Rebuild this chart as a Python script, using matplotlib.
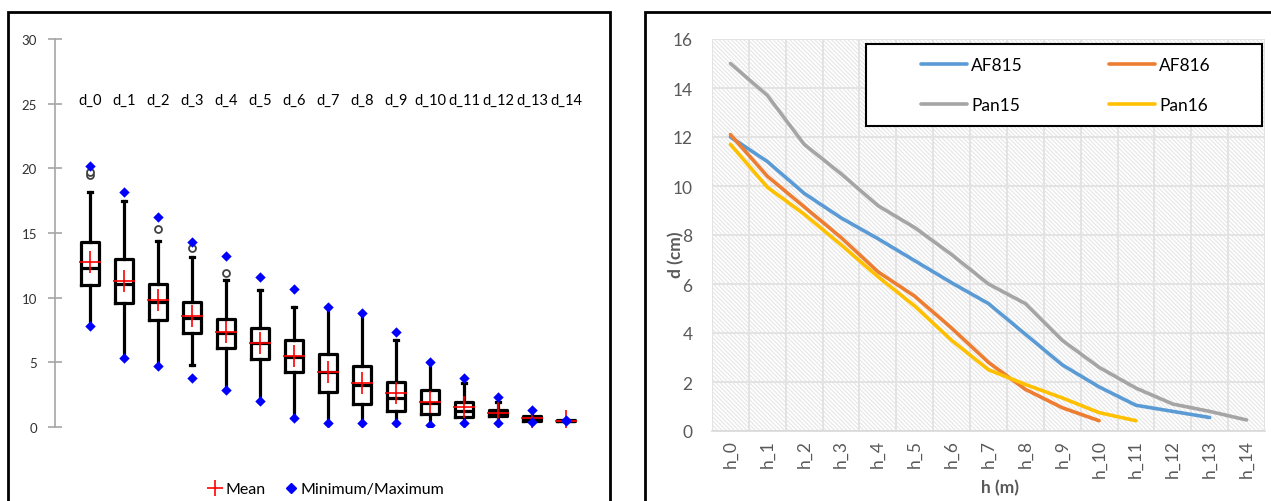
import matplotlib
matplotlib.use("Agg")
import matplotlib.pyplot as plt
from matplotlib.lines import Line2D
from matplotlib.patches import Rectangle
import numpy as np

plt.rcParams['font.family'] = ['Lato', 'DejaVu Sans']
plt.rcParams['hatch.linewidth'] = 0.8

# ---------------- Left chart data (box plots) ----------------
d_labels = ['d_0', 'd_1', 'd_2', 'd_3', 'd_4', 'd_5', 'd_6', 'd_7',
            'd_8', 'd_9', 'd_10', 'd_11', 'd_12', 'd_13', 'd_14']
d_q1 = [11.0, 9.6, 8.27, 7.24, 6.08, 5.23, 4.25, 2.74, 1.8, 1.24, 0.98, 0.75, 0.85, 0.49, 0.44]
d_med = [12.26, 11.03, 9.66, 8.42, 7.29, 6.49, 5.41, 4.28, 3.27, 2.27, 1.85, 1.21, 1.1, 0.7, 0.5]
d_q3 = [14.27, 12.98, 11.03, 9.63, 8.32, 7.68, 6.72, 5.68, 4.71, 3.48, 2.86, 1.9, 1.31, 0.88, 0.55]
d_mean = [12.72, 11.3, 9.84, 8.6, 7.37, 6.49, 5.46, 4.28, 3.4, 2.63, 1.9, 1.52, 1.1, 0.7, 0.5]
d_whislo = [7.78, 5.33, 4.71, 4.76, 2.89, 2.0, 0.7, 0.28, 0.28, 0.28, 0.15, 0.28, 0.28, 0.36, 0.45]
d_whishi = [18.2, 17.44, 14.35, 13.14, 11.36, 10.59, 9.25, 9.3, 8.81, 6.75, 5.02, 3.37, 1.9, 1.34, 0.55]
d_min = [7.78, 5.33, 4.71, 3.78, 2.89, 2.0, 0.7, 0.28, 0.28, 0.28, 0.15, 0.28, 0.28, 0.36, 0.45]
d_max = [20.2, 18.2, 16.25, 14.27, 13.19, 11.62, 10.64, 9.3, 8.81, 7.32, 5.02, 3.81, 2.32, 1.34, 0.55]
d_outliers = [[19.5, 19.7], [], [15.3], [13.83], [11.87], [], [], [], [], [], [], [], [], [], []]

# ---------------- Right chart data (lines) ----------------
h_labels = ['h_0', 'h_1', 'h_2', 'h_3', 'h_4', 'h_5', 'h_6', 'h_7',
            'h_8', 'h_9', 'h_10', 'h_11', 'h_12', 'h_13', 'h_14']
AF815 = [12.0, 11.0, 9.7, 8.7, 7.85, 6.95, 6.05, 5.2, 3.95, 2.7, 1.8, 1.05, 0.8, 0.55]
AF816 = [12.1, 10.4, 9.15, 7.9, 6.5, 5.5, 4.2, 2.8, 1.7, 0.95, 0.42]
Pan15 = [15.0, 13.7, 11.7, 10.5, 9.2, 8.3, 7.2, 6.0, 5.2, 3.7, 2.6, 1.75, 1.1, 0.8, 0.45]
Pan16 = [11.7, 9.95, 8.85, 7.6, 6.3, 5.1, 3.7, 2.5, 1.9, 1.35, 0.75, 0.42]

W, H = 1271, 502
fig = plt.figure(figsize=(W / 100, H / 100), dpi=100)


def fx(px):
    return px / W


def fy(py):
    return 1 - py / H


# Outer frames of the two charts (partially cut by figure edges)
fig.patches.append(Rectangle((fx(8), fy(560)), fx(610) - fx(8), fy(13) - fy(560),
                             transform=fig.transFigure, fill=False, edgecolor='black',
                             linewidth=2, zorder=0))
fig.patches.append(Rectangle((fx(645), fy(560)), fx(1300) - fx(645), fy(13) - fy(560),
                             transform=fig.transFigure, fill=False, edgecolor='black',
                             linewidth=2, zorder=0))

# ---------------- Left chart ----------------
axL = fig.add_axes([fx(55), fy(428), fx(600) - fx(55), fy(40) - fy(428)])
stats = []
for i in range(len(d_labels)):
    stats.append(dict(med=d_med[i], q1=d_q1[i], q3=d_q3[i], whislo=d_whislo[i],
                      whishi=d_whishi[i], mean=d_mean[i], fliers=d_outliers[i],
                      label=d_labels[i]))
pos = np.arange(len(d_labels))
axL.bxp(stats, positions=pos, widths=0.53, showmeans=True, showfliers=True,
        boxprops=dict(color='black', linewidth=2.3),
        whiskerprops=dict(color='black', linewidth=2.3),
        capprops=dict(color='black', linewidth=2.3),
        medianprops=dict(color='black', linewidth=2.3),
        meanprops=dict(marker='+', markeredgecolor='red', markersize=16, markeredgewidth=1.2),
        flierprops=dict(marker='o', markerfacecolor='white', markeredgecolor='#404040',
                        markersize=5, markeredgewidth=1.3),
        capwidths=0.12, manage_ticks=False)
axL.scatter(pos, d_min, marker='D', s=28, color='#0000FF', zorder=5, linewidths=0)
axL.scatter(pos, d_max, marker='D', s=28, color='#0000FF', zorder=5, linewidths=0)
for i, lab in enumerate(d_labels):
    axL.text(pos[i], 25.3, lab, ha='center', va='center', fontsize=10.5, color='black')
axL.set_xlim(-1.03, 15.0)
axL.set_ylim(0, 30)
axL.set_yticks([0, 5, 10, 15, 20, 25, 30])
axL.set_xticks([])
for s in ['top', 'right', 'bottom']:
    axL.spines[s].set_visible(False)
axL.spines['left'].set_color('#A6A6A6')
axL.spines['left'].set_linewidth(1.2)
axL.tick_params(axis='y', direction='inout', length=10, width=1.2, color='#A6A6A6',
                labelsize=9.5, labelcolor='#303030', pad=8)
axL.set_facecolor('none')

handles = [Line2D([], [], marker='+', color='red', linestyle='none', markersize=12, markeredgewidth=1.2),
           Line2D([], [], marker='D', color='#0000FF', linestyle='none', markersize=5)]
fig.legend(handles, ['Mean', 'Minimum/Maximum'], loc='center', ncol=2,
           bbox_to_anchor=(fx(325), fy(490)), frameon=False, fontsize=11.5,
           handletextpad=0.0, columnspacing=1.0, handlelength=1.2)

# ---------------- Right chart ----------------
axR = fig.add_axes([fx(712), fy(432), fx(1265) - fx(712), fy(40) - fy(432)])
axR.add_patch(Rectangle((0, 0), 1, 1, transform=axR.transAxes, facecolor='white',
                        edgecolor='#E6E6E6', hatch='\\' * 8, linewidth=0, zorder=0))
axR.set_xlim(-0.5, 14.5)
axR.set_ylim(0, 16)
axR.set_yticks(np.arange(0, 17, 2))
axR.set_xticks(np.arange(len(h_labels)))
axR.set_xticklabels(h_labels, rotation=90)
axR.set_xticks(np.arange(-0.5, 14.6, 0.5), minor=True)
axR.grid(True, which='major', axis='y', color='#E3E3E3', linewidth=1.4, zorder=1)
axR.grid(True, which='minor', axis='x', color='#E3E3E3', linewidth=1.4, zorder=1)
axR.set_axisbelow(True)
for s in ['top', 'right', 'left']:
    axR.spines[s].set_visible(False)
axR.spines['bottom'].set_color('#D9D9D9')
axR.spines['bottom'].set_linewidth(1.2)
axR.tick_params(axis='both', which='both', length=0, labelsize=12.5, labelcolor='#595959')
axR.tick_params(axis='y', pad=14)
axR.tick_params(axis='x', pad=6)

series = [(AF815, 'AF815', '#5B9BD5'), (AF816, 'AF816', '#ED7D31'),
          (Pan15, 'Pan15', '#A5A5A5'), (Pan16, 'Pan16', '#FFC000')]
lines = {}
for vals, name, col in series:
    ln, = axR.plot(np.arange(len(vals)), vals, color=col, linewidth=2.6,
                   solid_capstyle='round', solid_joinstyle='round', label=name, zorder=3)
    lines[name] = ln

# legend box (white with black border)
axR.add_patch(Rectangle((fx(866), fy(127)), fx(1262) - fx(866), fy(45) - fy(127),
                        transform=fig.transFigure, facecolor='white', edgecolor='black',
                        linewidth=1.5, clip_on=False, zorder=8))
leg = axR.legend([lines['AF815'], lines['Pan15'], lines['AF816'], lines['Pan16']],
                 ['AF815', 'Pan15', 'AF816', 'Pan16'],
                 loc='center', bbox_to_anchor=(fx(1066), fy(86)),
                 bbox_transform=fig.transFigure, ncol=2, fontsize=12.5,
                 frameon=False, handlelength=2.6, handletextpad=0.25,
                 labelspacing=1.4, columnspacing=5.0, borderpad=0)
leg.set_zorder(10)

fig.text(fx(676), fy(255), 'd (cm)', rotation=90, ha='center', va='center',
         fontsize=12.5, fontweight='bold', color='#595959')
fig.text(fx(1000), fy(488), 'h (m)', ha='center', va='center',
         fontsize=12.5, fontweight='bold', color='#595959')

fig.savefig('out.png', dpi=100)
